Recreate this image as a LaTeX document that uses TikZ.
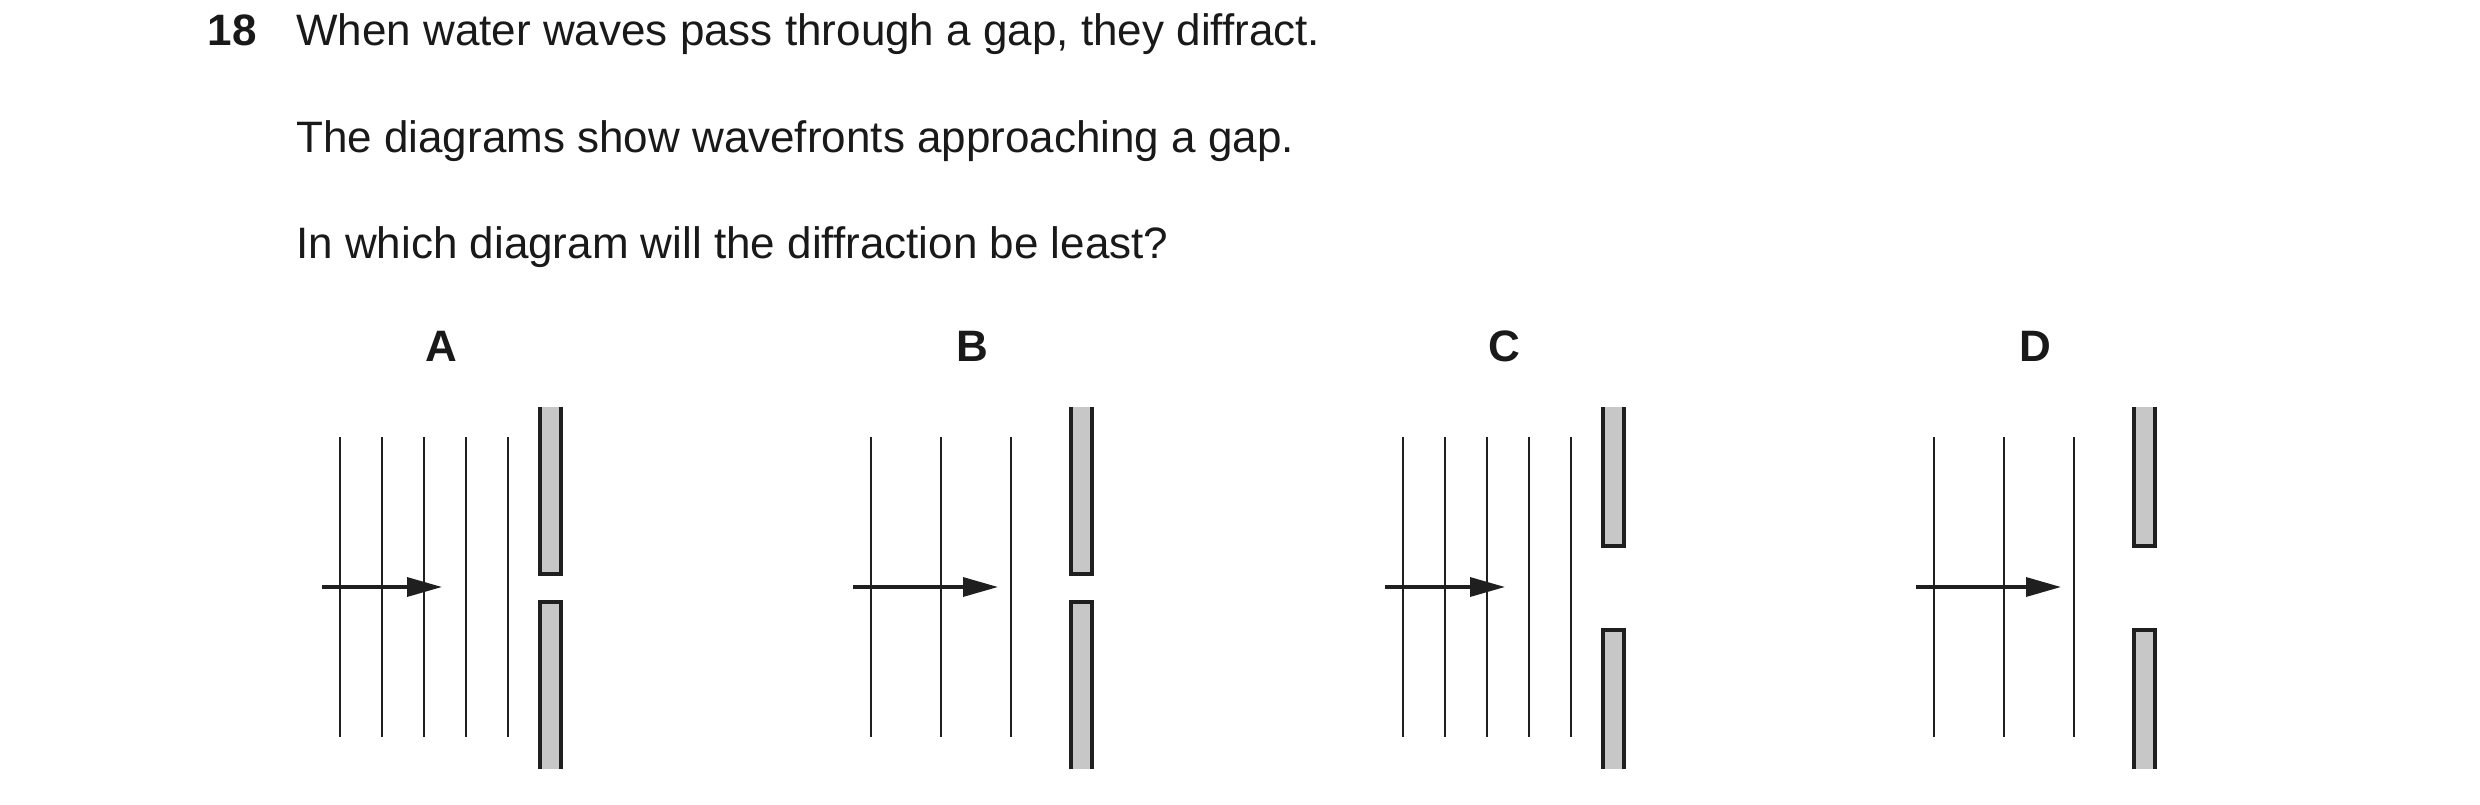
\documentclass[tikz,border=0pt]{standalone}
\usepackage{fontspec}
\setmainfont{Liberation Sans}
\usetikzlibrary{arrows.meta}
\begin{document}
\begin{tikzpicture}[x=1pt,y=-1pt,
  wave/.style={line width=2pt,draw=black!88},
  barrier/.style={line width=4pt,draw=black!88,fill=black!22},
  dir/.style={line width=3.3pt,draw=black!88,-{Triangle[length=35pt,width=19pt]}},
  txt/.style={anchor=base west,inner sep=0,font=\fontsize{44}{50}\selectfont,text=black!90},
  lab/.style={anchor=base,inner sep=0,font=\fontsize{44}{50}\selectfont\bfseries,text=black!90}]
\useasboundingbox (0,0) rectangle (2480,805);
\node[txt,font=\fontsize{44}{50}\selectfont\bfseries,anchor=base east] (num) at (257,46) {18};
\node[txt] (l1) at (296,46) {When water waves pass through a gap, they diffract.};
\node[txt] (l2) at (296,153) {The diagrams show wavefronts approaching a gap.};
\node[txt] (l3) at (296,258) {In which diagram will the diffraction be least?};
% offsets: dx, labels, n waves spacing, gap
\foreach \dx/\L/\xs/\ge/\gs in {0/A/{340,382,424,466,508}/574/602,
                             531/B/{340,410,480}/574/602,
                             1063/C/{340,382,424,466,508}/546/630,
                             1594/D/{340,410,480}/546/630}{
  \begin{scope}[xshift=\dx]
    \node[lab] (lab\L) at (441,361) {\L};
    \foreach \x in \xs { \draw[wave] (\x,437) -- (\x,737); }
    \coordinate (s\L) at (322,587);
    \coordinate (e\L) at ({\dx==0 || \dx==1063 ? 442 : 467},587);
    \draw[dir] (s\L) -- (e\L);
    \draw[barrier] (540,407) -- (540,\ge) -- (561,\ge) -- (561,407);
    \draw[barrier] (540,769) -- (540,\gs) -- (561,\gs) -- (561,769);
  \end{scope}}
\end{tikzpicture}
\end{document}
